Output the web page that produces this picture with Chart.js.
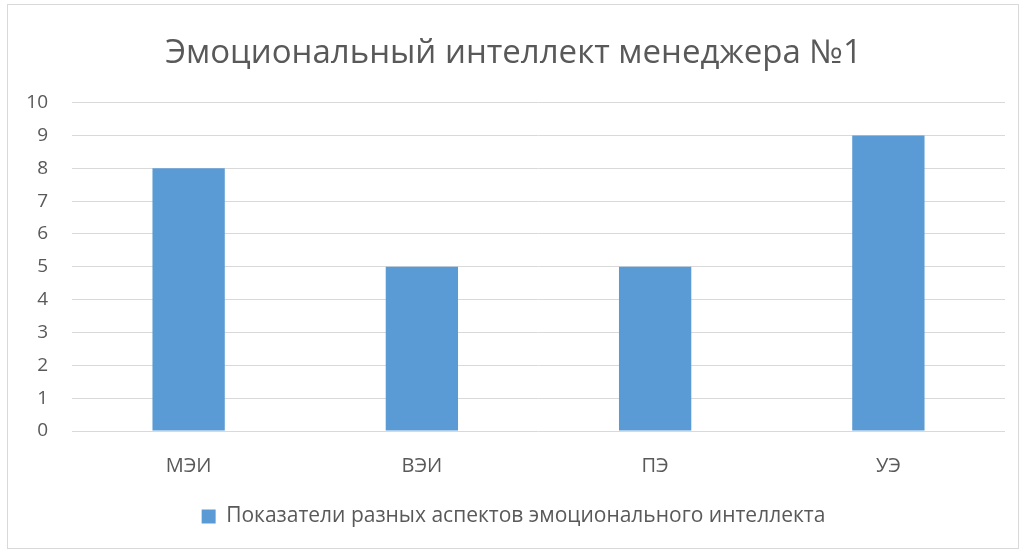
<!DOCTYPE html>
<html>
<head>
<meta charset="utf-8">
<script src="https://cdn.jsdelivr.net/npm/chart.js@4"></script>
<style>
  body { margin: 0; background: #ffffff; }
  #wrap { position: absolute; left: 0; top: 0; width: 1022px; height: 552px; }
  #frame { position: absolute; left: 7px; top: 4px; width: 1010px; height: 543px; border: 1px solid #D9D9D9; pointer-events: none; }
</style>
</head>
<body>
<div id="wrap">
  <canvas id="chart" width="1022" height="552"></canvas>
  <div id="frame"></div>
</div>
<script>
// Data
const categories = ['МЭИ', 'ВЭИ', 'ПЭ', 'УЭ'];
const scores = [8, 5, 5, 9];
const seriesName = 'Показатели разных аспектов эмоционального интеллекта';
const chartTitle = 'Эмоциональный интеллект менеджера №1';

const textColor = '#595959';
const fontFamily = "'Open Sans', 'Noto Sans', sans-serif";

const ctx = document.getElementById('chart').getContext('2d');
const chart = new Chart(ctx, {
    type: 'bar',
    data: {
        labels: categories,
        datasets: [{
            label: seriesName,
            data: scores,
            backgroundColor: '#5B9BD5',
            borderWidth: 0,
            barPercentage: 0.31,
            categoryPercentage: 1
        }]
    },
    options: {
        responsive: false,
        animation: false,
        layout: {
            padding: { left: 22, right: 17, top: 0, bottom: 15 }
        },
        plugins: {
            title: {
                display: true,
                text: chartTitle,
                color: textColor,
                font: { family: fontFamily, size: 33, weight: 'normal' },
                padding: { top: 34, bottom: 29 }
            },
            legend: {
                position: 'bottom',
                labels: {
                    color: textColor,
                    font: { family: fontFamily, size: 21 },
                    boxWidth: 14,
                    boxHeight: 14,
                    padding: 10
                }
            },
            tooltip: { enabled: false }
        },
        scales: {
            x: {
                grid: { display: false },
                border: { display: false },
                ticks: {
                    color: textColor,
                    font: { family: fontFamily, size: 20 },
                    padding: 15
                },
                afterFit: (scale) => { scale.height = 65; }
            },
            y: {
                min: 0,
                max: 10,
                ticks: {
                    stepSize: 1,
                    color: textColor,
                    font: { family: fontFamily, size: 19 },
                    padding: 24
                },
                grid: { color: '#D9D9D9', lineWidth: 1, drawTicks: false },
                border: { display: false },
                afterFit: (scale) => { scale.width = 50; }
            }
        }
    }
});
</script>
</body>
</html>
